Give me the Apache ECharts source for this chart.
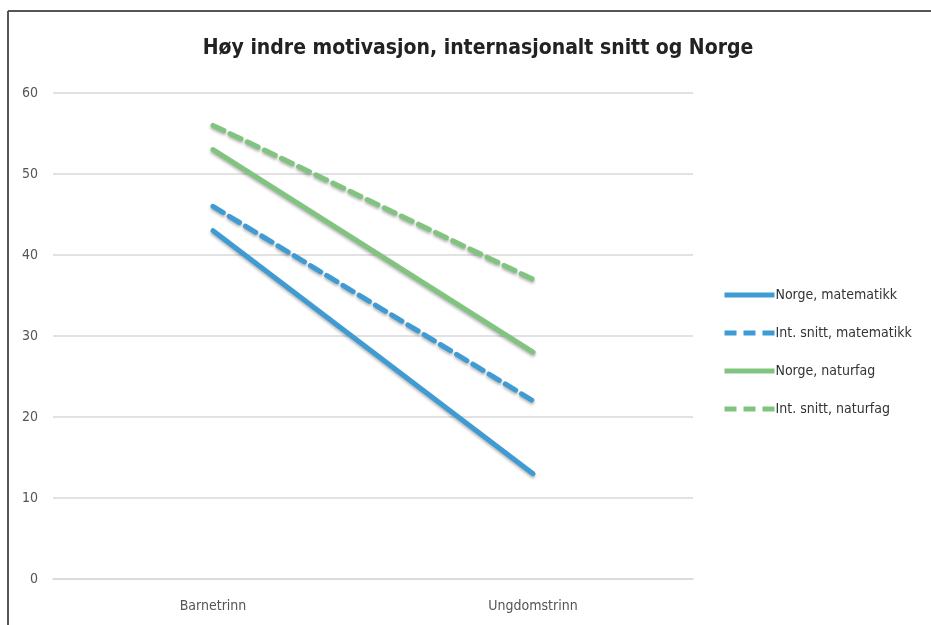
<!DOCTYPE html>
<html>
<head>
<meta charset="utf-8">
<script src="https://cdn.jsdelivr.net/npm/echarts@6/dist/echarts.min.js"></script>
<style>
  html, body { margin: 0; padding: 0; background: #fff; }
  #main { width: 931px; height: 625px; }
</style>
</head>
<body>
<div id="main"></div>
<script>
// data
const categories = ['Barnetrinn', 'Ungdomstrinn']
const norgeMatematikk = [43, 13]
const intMatematikk = [46, 22]
const norgeNaturfag = [53, 28]
const intNaturfag = [56, 37]

const blue = '#3f9bd3'
const green = '#80c480'
const font = '"Liberation Sans Narrow", "DejaVu Sans Condensed", sans-serif'

const lineShadow = {
  shadowBlur: 3,
  shadowColor: 'rgba(0,0,0,0.3)',
  shadowOffsetY: 2
}

function makeSeries(name, data, color, dashed) {
  return {
    name: name,
    type: 'line',
    data: data,
    symbol: 'none',
    lineStyle: Object.assign({
      color: color,
      width: 5,
      type: dashed ? [12, 7] : 'solid',
      cap: 'round'
    }, lineShadow),
    itemStyle: { color: color }
  }
}

const chart = echarts.init(document.getElementById('main'))
chart.setOption({
  animation: false,
  backgroundColor: '#fff',
  textStyle: { fontFamily: font },
  title: {
    text: 'Høy indre motivasjon, internasjonalt snitt og Norge',
    left: 473,
    top: 33,
    textAlign: 'center',
    textStyle: { fontFamily: font, fontSize: 21, fontWeight: 'bold', color: '#222' }
  },
  legend: {
    orient: 'vertical',
    left: 717,
    top: 283,
    itemWidth: 50,
    itemHeight: 14,
    itemGap: 24,
    itemStyle: { opacity: 0 },
    lineStyle: { width: 5, cap: 'butt', shadowBlur: 0 },
    textStyle: { fontFamily: font, fontSize: 14, color: '#333', padding: [0, 0, 0, -4] },
    data: ['Norge, matematikk', 'Int. snitt, matematikk', 'Norge, naturfag', 'Int. snitt, naturfag']
  },
  grid: { left: 53, right: 238, top: 93, bottom: 46 },
  xAxis: {
    type: 'category',
    data: categories,
    boundaryGap: true,
    axisLine: { lineStyle: { color: '#d9d9d9', width: 1.5 } },
    axisTick: { show: false },
    axisLabel: { color: '#555', fontSize: 14, margin: 20, fontFamily: font }
  },
  yAxis: {
    type: 'value',
    min: 0,
    max: 60,
    interval: 10,
    axisLine: { show: false },
    axisTick: { show: false },
    axisLabel: { color: '#555', fontSize: 14, margin: 15, fontFamily: font },
    splitLine: { lineStyle: { color: '#d9d9d9', width: 1.5 } }
  },
  graphic: [
    { type: 'line', shape: { x1: 8, y1: 11, x2: 931, y2: 11 }, style: { stroke: '#555', lineWidth: 2 } },
    { type: 'line', shape: { x1: 8, y1: 11, x2: 8, y2: 625 }, style: { stroke: '#555', lineWidth: 2 } }
  ],
  series: [
    makeSeries('Norge, matematikk', norgeMatematikk, blue, false),
    makeSeries('Int. snitt, matematikk', intMatematikk, blue, true),
    makeSeries('Norge, naturfag', norgeNaturfag, green, false),
    makeSeries('Int. snitt, naturfag', intNaturfag, green, true)
  ]
})
</script>
</body>
</html>
